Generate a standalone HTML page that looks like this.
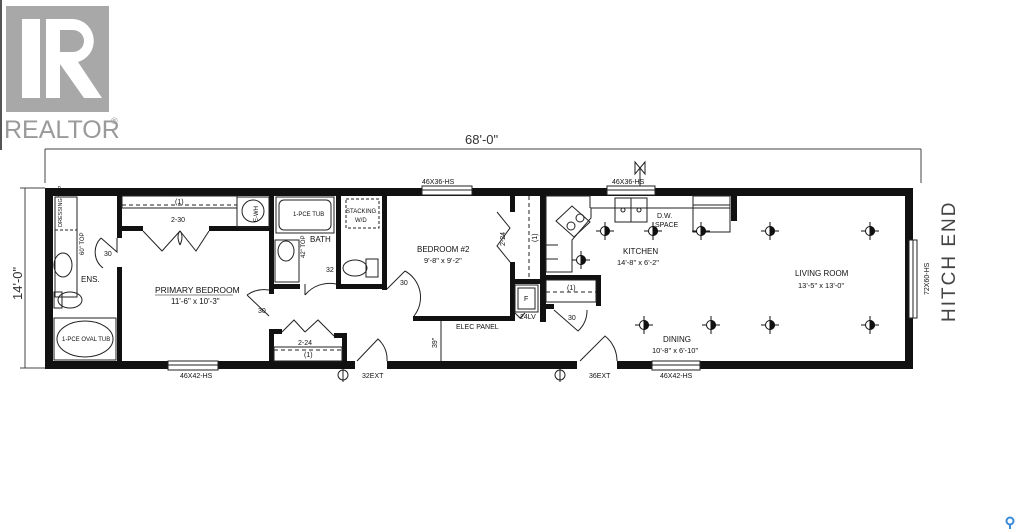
<!DOCTYPE html>
<html><head><meta charset="utf-8"><style>
html,body{margin:0;padding:0;background:#fff;width:1033px;height:532px;overflow:hidden}
svg{display:block}
text{font-family:"Liberation Sans",sans-serif;fill:#111}
</style></head><body>
<svg width="1033" height="532" viewBox="0 0 1033 532" xmlns="http://www.w3.org/2000/svg">
<!-- realtor logo -->
<rect x="0" y="0" width="2" height="150" fill="#555"/>
<rect x="6" y="6" width="103" height="106" fill="#a8a8a8"/>
<rect x="22" y="19" width="18" height="79" fill="#fff"/>
<path d="M46 19 H74 A22 22 0 0 1 78 62 L102 98 H76 L60 70 V98 H46 Z" fill="#fff"/>
<path d="M60 30 H73 A11 11 0 0 1 73 52 H60 Z" fill="#a8a8a8"/>
<path d="M60 64 L84 98 H60 Z" fill="#a8a8a8"/>
<text x="4" y="138" font-size="25" style="fill:#9a9a9a">REALTOR</text>
<text x="111" y="124" font-size="9" style="fill:#9a9a9a">®</text>

<!-- dimensions -->
<g stroke="#444" stroke-width="1" fill="none">
<line x1="45" y1="149" x2="921" y2="149"/>
<line x1="45" y1="149" x2="45" y2="183"/>
<line x1="921" y1="149" x2="921" y2="183"/>
<line x1="25" y1="188" x2="25" y2="368"/>
<line x1="20" y1="188" x2="45" y2="188"/>
<line x1="20" y1="368" x2="45" y2="368"/>
</g>
<text x="465" y="144" font-size="13" style="fill:#333">68'-0"</text>
<text transform="translate(22,300) rotate(-90)" font-size="13" style="fill:#333">14'-0"</text>
<text transform="translate(955,322) rotate(-90)" font-size="19" style="fill:#444" letter-spacing="2">HITCH END</text>

<!-- exterior walls -->
<g fill="#111">
<rect x="45" y="188" width="868" height="8"/>
<rect x="45" y="361" width="868" height="8"/>
<rect x="45" y="188" width="8" height="181"/>
<rect x="905" y="188" width="8" height="181"/>
<rect x="117" y="196" width="5" height="42"/>
<rect x="117" y="267" width="5" height="95"/>
<rect x="117" y="226" width="26" height="5"/>
<rect x="209" y="226" width="65" height="5"/>
<rect x="269" y="196" width="5" height="98"/>
<rect x="269" y="329" width="5" height="33"/>
<rect x="269" y="329" width="13" height="5"/>
<rect x="334" y="333" width="13" height="5"/>
<rect x="342" y="333" width="5" height="29"/>
<rect x="269" y="284" width="31" height="5"/>
<rect x="336" y="196" width="5" height="92"/>
<rect x="336" y="284" width="51" height="5"/>
<rect x="382" y="196" width="5" height="94"/>
<rect x="413" y="316" width="102" height="5"/>
<rect x="510" y="196" width="5" height="16"/>
<rect x="510" y="262" width="5" height="59"/>
<rect x="540" y="196" width="6" height="126"/>
<rect x="510" y="279" width="35" height="5"/>
<rect x="545" y="275" width="56" height="5"/>
<rect x="596" y="275" width="5" height="31"/>
<rect x="545" y="304" width="9" height="5"/>
<rect x="731" y="196" width="6" height="25"/>
</g>
<!-- windows -->
<g fill="#fff" stroke="#222" stroke-width="1">
<rect x="422" y="186" width="50" height="9"/>
<rect x="607" y="186" width="48" height="9"/>
<rect x="168" y="361" width="50" height="9"/>
<rect x="652" y="361" width="48" height="9"/>
<rect x="909" y="240" width="8" height="78"/>
<line x1="422" y1="190" x2="472" y2="190"/><line x1="607" y1="190" x2="655" y2="190"/>
<line x1="168" y1="365" x2="218" y2="365"/><line x1="652" y1="365" x2="700" y2="365"/>
<line x1="913" y1="240" x2="913" y2="318"/>
</g>
<g font-size="7">
<text x="422" y="184">46X36-HS</text>
<text x="612" y="184">46X36-HS</text>
<text x="180" y="378">46X42-HS</text>
<text x="660" y="378">46X42-HS</text>
<text transform="translate(929,295) rotate(-90)">72X60-HS</text>
</g>
<g fill="#fff">
<rect x="355" y="360" width="32" height="10"/>
<rect x="577" y="360" width="40" height="10"/>
</g>
<!-- fixtures -->
<g fill="none" stroke="#222" stroke-width="1">
<rect x="55" y="197" width="22" height="100"/>
<line x1="55" y1="230" x2="77" y2="230" stroke-dasharray="3,2"/>
<ellipse cx="63" cy="265" rx="9" ry="12"/>
<ellipse cx="70" cy="300" rx="12" ry="8"/><rect x="54" y="292" width="8" height="16"/>
<rect x="54" y="318" width="62" height="42"/><ellipse cx="85" cy="339" rx="28" ry="18"/>
<rect x="122" y="196" width="115" height="12"/>
<line x1="122" y1="205" x2="237" y2="205" stroke-dasharray="4,3"/>
<rect x="237" y="197" width="32" height="30"/><circle cx="253" cy="211" r="11"/>
<rect x="276" y="197" width="58" height="36"/><rect x="279" y="200" width="52" height="30" rx="5"/>
<rect x="346" y="199" width="33" height="29" stroke-dasharray="3,2"/>
<rect x="275" y="240" width="24" height="42"/><ellipse cx="286" cy="251" rx="8" ry="10"/>
<ellipse cx="355" cy="268" rx="12" ry="8"/><rect x="366" y="259" width="12" height="18"/>
<rect x="274" y="347" width="68" height="14"/><line x1="274" y1="350" x2="342" y2="350" stroke-dasharray="4,3"/>
<line x1="529" y1="196" x2="529" y2="279" stroke-dasharray="4,3"/>
<rect x="515" y="285" width="23" height="27"/><rect x="518" y="288" width="17" height="21"/>
<rect x="546" y="280" width="50" height="22"/><line x1="546" y1="292" x2="596" y2="292" stroke-dasharray="4,3"/>
<path d="M546 196 V272 H572 V240 L591 218 V208 H730"/>
<path d="M546 196 H590 V208"/>
<rect x="615" y="198" width="32" height="24"/>
<line x1="631" y1="198" x2="631" y2="222"/>
<circle cx="623" cy="210" r="2"/><circle cx="639" cy="210" r="2"/>
<rect x="693" y="196" width="37" height="36"/>
<line x1="693" y1="205" x2="730" y2="205"/>
<polygon points="556,221 572,206 590,222 574,237"/>
<circle cx="571" cy="226" r="4"/><circle cx="580" cy="218" r="4"/>
<line x1="546" y1="245" x2="558" y2="245"/><line x1="546" y1="259" x2="558" y2="259"/>
<path d="M101 238 L117 252 L117 238" /><path d="M101 238 A20 20 0 0 0 103 268"/>
<path d="M143 231 L162 251 L180 231 M180 231 L196 251 L209 231"/>
<path d="M180 245 Q176 236 180 231 Q184 236 180 245"/>
<path d="M247 295 L269 316"/><path d="M247 295 A 30 30 0 0 1 269 290"/>
<path d="M282 332 L294 320 L305 332 M305 332 L318 320 L334 336"/>
<path d="M305 295 A32 32 0 0 1 336 284"/><line x1="305" y1="295" x2="305" y2="284"/>
<path d="M387 289 L405 271"/><path d="M405 271 A30 30 0 0 1 414 316"/>
<path d="M357 361 L378 339 A27 27 0 0 1 387 361"/>
<path d="M580 361 L605 336 A32 32 0 0 1 617 361"/>
<path d="M497 212 L510 228 L497 246 L510 262"/>
<path d="M554 310 L578 331 A28 28 0 0 0 587 310"/>
<path d="M515 313 L520 318 L525 313"/>
<line x1="441" y1="321" x2="441" y2="361"/>
<circle cx="343" cy="375" r="5"/><line x1="343" y1="369" x2="343" y2="382"/>
<circle cx="560" cy="375" r="5"/><line x1="560" y1="369" x2="560" y2="382"/>
<path d="M635 162 L640 168 L635 174 Z M645 162 L640 168 L645 174 Z M640 168 V186"/>
</g>
<defs>
<g id="l"><line x1="-9" y1="0" x2="9" y2="0"/><line x1="0" y1="-9" x2="0" y2="9"/><circle r="4.5" fill="#fff"/><path d="M0 -4.5 A4.5 4.5 0 0 1 0 4.5 Z" fill="#111"/></g>
</defs>
<g stroke="#111" stroke-width="1">
<use href="#l" x="605" y="231"/><use href="#l" x="653" y="231"/><use href="#l" x="701" y="231"/><use href="#l" x="770" y="231"/><use href="#l" x="870" y="231"/>
<use href="#l" x="581" y="260"/><use href="#l" x="644" y="325"/><use href="#l" x="711" y="325"/><use href="#l" x="770" y="325"/><use href="#l" x="870" y="325"/>
</g>
<g font-size="7">
<text transform="translate(62,227) rotate(-90)" font-size="5.5">DRESSING TOP</text>
<text transform="translate(84,255) rotate(-90)" font-size="6">60" TOP</text>
<text x="104" y="256">30</text>
<text x="81" y="282" font-size="8">ENS.</text>
<text x="62" y="341" font-size="6">1-PCE OVAL TUB</text>
<text x="175" y="204">(1)</text>
<text x="171" y="222">2-30</text>
<text x="155" y="293" font-size="8.5">PRIMARY BEDROOM</text>
<text x="171" y="304" font-size="8">11'-6" x 10'-3"</text>
<line x1="155" y1="295" x2="233" y2="295" stroke="#111" stroke-width=".6"/>
<text x="258" y="313">30</text>
<text transform="translate(258,222) rotate(-90)" font-size="6">E-WH</text>
<text x="293" y="216" font-size="6">1-PCE TUB</text>
<text x="346" y="213" font-size="6">STACKING</text>
<text x="355" y="222" font-size="6">W/D</text>
<text x="310" y="242" font-size="8">BATH</text>
<text transform="translate(305,258) rotate(-90)" font-size="6">42" TOP</text>
<text x="326" y="272">32</text>
<text x="298" y="345">2-24</text>
<text x="304" y="357">(1)</text>
<text x="417" y="252" font-size="8">BEDROOM #2</text>
<text x="424" y="263" font-size="7.5">9'-8" x 9'-2"</text>
<text x="400" y="285">30</text>
<text x="456" y="329">ELEC PANEL</text>
<text transform="translate(437,348) rotate(-90)">39"</text>
<text transform="translate(505,246) rotate(-90)">2-24</text>
<text transform="translate(537,242) rotate(-90)">(1)</text>
<text x="524" y="301">F</text>
<text x="520" y="319">24LV</text>
<text x="567" y="290">(1)</text>
<text x="568" y="320">30</text>
<text x="657" y="218">D.W.</text>
<text x="655" y="227">SPACE</text>
<text x="623" y="254" font-size="8">KITCHEN</text>
<text x="617" y="265" font-size="7.5">14'-8" x 6'-2"</text>
<text x="795" y="276" font-size="8">LIVING ROOM</text>
<text x="798" y="288" font-size="7.5">13'-5" x 13'-0"</text>
<text x="663" y="342" font-size="8">DINING</text>
<text x="652" y="353" font-size="7.5">10'-8" x 6'-10"</text>
<text x="362" y="378">32EXT</text>
<text x="589" y="378">36EXT</text>
</g>
<circle cx="1010" cy="521" r="3.5" fill="none" stroke="#3a8ad8" stroke-width="2"/>
<line x1="1010" y1="524" x2="1010" y2="529" stroke="#3a8ad8" stroke-width="2"/>
</svg>
</body></html>
